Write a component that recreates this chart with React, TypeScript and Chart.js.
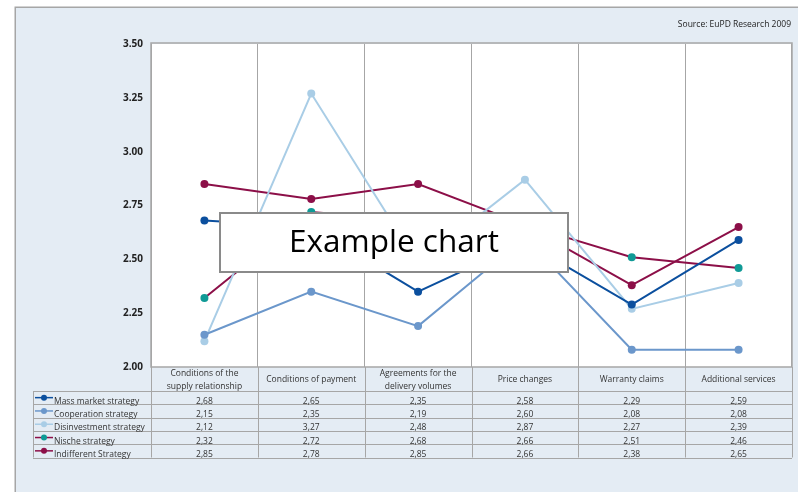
import React, { useEffect, useRef } from "react";
import { Chart, registerables } from "chart.js";

Chart.register(...registerables);

// Category labels (one entry per line of the header cell)
const categories: string[][] = [
  ["Conditions of the", "supply relationship"],
  ["Conditions of payment"],
  ["Agreements for the", "delivery volumes"],
  ["Price changes"],
  ["Warranty claims"],
  ["Additional services"],
];

const seriesNames = [
  "Mass market strategy",
  "Cooperation strategy",
  "Disinvestment strategy",
  "Nische strategy",
  "Indifferent Strategy",
];

const massMarket = [2.68, 2.65, 2.35, 2.58, 2.29, 2.59];
const cooperation = [2.15, 2.35, 2.19, 2.6, 2.08, 2.08];
const disinvestment = [2.12, 3.27, 2.48, 2.87, 2.27, 2.39];
const nische = [2.32, 2.72, 2.68, 2.66, 2.51, 2.46];
const indifferent = [2.85, 2.78, 2.85, 2.66, 2.38, 2.65];

const yTicks = [2.0, 2.25, 2.5, 2.75, 3.0, 3.25, 3.5];

const SOURCE_TEXT = "Source: EuPD Research 2009";
const TITLE_TEXT = "Example chart";

const FONT = '"Open Sans", "DejaVu Sans", sans-serif';
const PANEL_BG = "#e4ecf4";
const FRAME = "#a6a6a6";
const TEXT = "#333333";

const lineColors = ["#0b4f9e", "#6b97cb", "#a9cde6", "#8c0f48", "#8c0f48"];
const markerColors = ["#0b4f9e", "#6b97cb", "#a9cde6", "#109a96", "#8c0f48"];
const seriesValues = [massMarket, cooperation, disinvestment, nische, indifferent];

const fmt = (v: number) => v.toFixed(2).replace(".", ",");

const panelPlugin = {
  id: "panel",
  beforeDraw(chart: any) {
    const { ctx, chartArea: a, width, height } = chart;
    ctx.save();
    ctx.fillStyle = "#ffffff";
    ctx.fillRect(0, 0, width, height);
    ctx.fillStyle = PANEL_BG;
    ctx.fillRect(15, 7, width - 15, height - 7);
    ctx.strokeStyle = FRAME;
    ctx.lineWidth = 1.5;
    ctx.beginPath();
    ctx.moveTo(15.25, height);
    ctx.lineTo(15.25, 7.25);
    ctx.lineTo(width, 7.25);
    ctx.stroke();
    ctx.fillStyle = "#ffffff";
    ctx.fillRect(a.left, a.top, a.right - a.left, a.bottom - a.top);
    ctx.fillStyle = "#222222";
    ctx.font = `8.5px ${FONT}`;
    ctx.textAlign = "right";
    ctx.textBaseline = "middle";
    ctx.fillText(SOURCE_TEXT, 791, 25);
    ctx.restore();
  },
  afterDraw(chart: any) {
    const { ctx, chartArea: a } = chart;
    const xs = chart.scales.x;
    const n = categories.length;
    const centers = categories.map((_, i) => xs.getPixelForValue(i));
    const bounds: number[] = [a.left];
    for (let i = 0; i < n - 1; i++) bounds.push((centers[i] + centers[i + 1]) / 2);
    bounds.push(a.right);

    ctx.save();
    // plot frame
    ctx.strokeStyle = FRAME;
    ctx.lineWidth = 1.5;
    ctx.strokeRect(a.left, a.top - 1, a.right - a.left, a.bottom - a.top + 1);

    // data table under the plot
    const headTop = a.bottom;
    const headBottom = a.bottom + 24;
    const rowH = 13.3;
    const tableBottom = headBottom + rowH * seriesNames.length;
    const legendLeft = 33;

    ctx.lineWidth = 1;
    ctx.strokeStyle = FRAME;
    ctx.beginPath();
    bounds.forEach((b) => {
      const x = Math.round(b) + 0.5;
      ctx.moveTo(x, headTop);
      ctx.lineTo(x, tableBottom);
    });
    ctx.moveTo(legendLeft + 0.5, headBottom);
    ctx.lineTo(legendLeft + 0.5, tableBottom);
    ctx.moveTo(legendLeft, headBottom + 0.5);
    ctx.lineTo(a.right, headBottom + 0.5);
    for (let r = 1; r <= seriesNames.length; r++) {
      const y = Math.round(headBottom + rowH * r) + 0.5;
      ctx.moveTo(legendLeft, y);
      ctx.lineTo(a.right, y);
    }
    ctx.stroke();

    // header labels
    ctx.fillStyle = TEXT;
    ctx.font = `8.5px ${FONT}`;
    ctx.textAlign = "center";
    ctx.textBaseline = "middle";
    const headMid = (headTop + headBottom) / 2 + 1;
    categories.forEach((lines, i) => {
      if (lines.length === 1) {
        ctx.fillText(lines[0], centers[i], headMid);
      } else {
        ctx.fillText(lines[0], centers[i], headMid - 6);
        ctx.fillText(lines[1], centers[i], headMid + 6.5);
      }
    });

    // rows: legend key + values
    chart.data.datasets.forEach((ds: any, r: number) => {
      const rowTop = headBottom + rowH * r;
      const mid = rowTop + rowH / 2;
      ctx.strokeStyle = ds.borderColor;
      ctx.lineWidth = 1.5;
      ctx.beginPath();
      ctx.moveTo(35, mid);
      ctx.lineTo(53, mid);
      ctx.stroke();
      ctx.fillStyle = ds.pointBackgroundColor;
      ctx.beginPath();
      ctx.arc(44, mid, 3, 0, Math.PI * 2);
      ctx.fill();

      ctx.fillStyle = TEXT;
      ctx.textBaseline = "alphabetic";
      ctx.textAlign = "left";
      ctx.fillText(ds.label, 54, rowTop + rowH - 0.5);
      ctx.textAlign = "center";
      ds.data.forEach((v: number, i: number) => {
        ctx.fillText(fmt(v), centers[i], rowTop + rowH - 0.5);
      });
    });

    // title box
    const bx = 220, by = 213, bw = 348, bh = 59;
    ctx.fillStyle = "#ffffff";
    ctx.fillRect(bx, by, bw, bh);
    ctx.strokeStyle = "#8a8a8a";
    ctx.lineWidth = 2;
    ctx.strokeRect(bx, by, bw, bh);
    ctx.fillStyle = "#000000";
    ctx.font = `31.5px ${FONT}`;
    ctx.textAlign = "center";
    ctx.textBaseline = "middle";
    ctx.fillText(TITLE_TEXT, bx + bw / 2, by + bh / 2 + 1);
    ctx.restore();
  },
};

export default function App() {
  const canvasRef = useRef<HTMLCanvasElement | null>(null);

  useEffect(() => {
    if (!canvasRef.current) return;
    const chart = new Chart(canvasRef.current, {
      type: "line",
      data: {
        labels: categories.map((c) => c.join(" ")),
        datasets: seriesNames.map((name, i) => ({
          label: name,
          data: seriesValues[i],
          borderColor: lineColors[i],
          backgroundColor: markerColors[i],
          pointBackgroundColor: markerColors[i],
          pointBorderColor: markerColors[i],
          pointRadius: 4,
          pointBorderWidth: 0,
          borderWidth: 2,
          tension: 0,
          fill: false,
        })),
      },
      options: {
        responsive: false,
        animation: false,
        events: [],
        layout: { padding: { left: 0, right: 6, top: 44, bottom: 125 } },
        plugins: {
          legend: { display: false },
          tooltip: { enabled: false },
          title: { display: false },
        },
        scales: {
          x: {
            type: "category",
            offset: true,
            grid: { display: true, offset: true, color: FRAME, lineWidth: 1, drawTicks: false },
            border: { display: false },
            ticks: { display: false },
            afterFit: (s: any) => {
              s.height = 0;
            },
          },
          y: {
            min: yTicks[0],
            max: yTicks[yTicks.length - 1],
            grid: { display: false, drawTicks: false },
            border: { display: false },
            afterBuildTicks: (s: any) => {
              s.ticks = yTicks.map((v) => ({ value: v }));
            },
            ticks: {
              padding: 8,
              color: "#222222",
              font: { family: FONT, size: 10, weight: "bold" },
              callback: (v: any) => Number(v).toFixed(2),
            },
            afterFit: (s: any) => {
              s.width = 151;
            },
          },
        },
      },
      plugins: [panelPlugin],
    });
    return () => chart.destroy();
  }, []);

  return (
    <div style={{ position: "absolute", left: 0, top: 0, width: 798, height: 492 }}>
      <canvas ref={canvasRef} width={798} height={492} style={{ display: "block" }} />
    </div>
  );
}
